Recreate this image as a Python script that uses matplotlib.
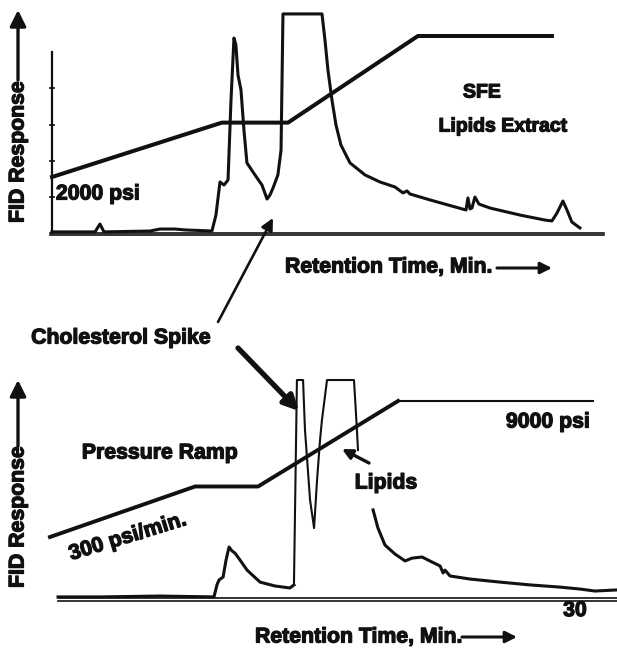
import numpy as np
import matplotlib
matplotlib.use("Agg")
import matplotlib.pyplot as plt
import matplotlib.patheffects as pe

# ---------------- data ----------------
# Top chromatogram: SFE lipids extract (time in min, response in % of full scale)
top_time = [0.0, 2.46, 2.74, 2.97, 5.6, 6.17, 7.03, 7.6, 9.14, 9.37, 9.6, 9.83, 10.06,
            10.23, 10.4, 10.51, 10.63, 10.8, 10.97, 11.14, 11.6, 12.0, 12.29, 12.46,
            12.63, 12.91, 13.09, 13.2, 15.43, 15.6, 15.77, 16.0, 16.23, 16.51, 17.03,
            17.89, 18.74, 19.6, 20.06, 20.29, 20.46, 21.6, 23.03, 23.66, 23.77, 23.89,
            24.0, 24.17, 24.4, 25.03, 26.74, 28.17, 28.57, 28.86, 29.2, 29.43, 29.71, 30.17]
top_resp = [0.5, 0.5, 4.1, 0.5, 0.9, 1.8, 1.8, 1.4, 0.9, 8.2, 23.3, 21.9, 24.2,
            60.7, 89.0, 85.8, 72.1, 65.3, 47.0, 32.0, 26.5, 21.9, 15.5, 17.4,
            20.5, 26.5, 37.9, 100, 100, 88.1, 74.4, 60.7, 49.3, 40.2, 32.0,
            26.5, 23.3, 21.0, 18.3, 19.2, 17.8, 15.1, 11.9, 10.5, 16.0, 11.0,
            11.4, 16.4, 13.2, 11.4, 8.2, 5.9, 5.5, 9.1, 14.6, 10.5, 5.0, 2.3]
# Top pressure program (psi)
top_p_time = [0.0, 9.71, 13.49, 20.91, 28.57]
top_p_psi = [2000, 4700, 4700, 9000, 9000]

# Bottom chromatogram: cholesterol spike + lipids
bot_time = [0.46, 2.86, 6.29, 9.37, 9.54, 9.66, 9.89, 10.06, 10.23, 10.4, 10.57, 10.86,
            11.26, 12.0, 12.86, 13.71, 13.94, 14.11, 14.46, 14.57, 14.86, 15.09, 15.26,
            15.43, 15.54, 15.83, 17.37, 17.49, 17.6, np.nan, 18.46, 18.74, 19.14, 19.71,
            20.29, 20.69, 21.26, 21.83, 22.29, 22.46, 22.57, 22.86, 24.0, 25.71, 27.43,
            29.14, 30.29, 31.14, 32.4]
bot_resp = [0.5, 0.5, 0.9, 0.5, 6.0, 8.3, 9.6, 17.4, 23.4, 21.6, 20.6, 17.4,
            12.8, 7.3, 5.5, 4.6, 6.0, 100, 100, 77.1, 45.0, 32.1, 54.1,
            72.5, 81.7, 100, 100, 83.9, 67.9, np.nan, 40.4, 32.1, 24.3, 20.2,
            17.0, 18.3, 18.8, 16.5, 14.7, 11.5, 12.8, 10.1, 8.7, 7.3, 6.0,
            5.0, 4.1, 3.2, 3.7]
bot_p_time = [0.0, 8.29, 11.89, 19.89, 31.03]
bot_p_psi = [2000, 4600, 4600, 9000, 9000]

x_tick_label = "30"
x_tick_value = 30

# ---------------- figure ----------------
W, H = 617, 649
fig = plt.figure(figsize=(W / 100, H / 100), dpi=100)
plt.rcParams['font.family'] = ['Liberation Sans', 'DejaVu Sans']
INK = '#111111'
FS = 15.3
BOLDER = [pe.withStroke(linewidth=0.9, foreground=INK)]


def box(x0, y0, x1, y1):
    """pixel box (top-left origin) -> figure fraction rect"""
    return [x0 / W, 1 - y1 / H, (x1 - x0) / W, (y1 - y0) / H]


def fp(x, y):
    return (x, H - y)


def ftext(x, y, s, **kw):
    kw.setdefault('fontsize', FS)
    kw.setdefault('fontweight', 'bold')
    kw.setdefault('color', INK)
    kw.setdefault('ha', 'center')
    kw.setdefault('va', 'center')
    kw.setdefault('path_effects', BOLDER)
    fig.text(x / W, 1 - y / H, s, **kw)


def farrow(tail, head, lw=2.0, ms=18):
    fig.add_artist(matplotlib.patches.FancyArrowPatch(
        fp(*tail), fp(*head), transform=None, arrowstyle='-|>',
        mutation_scale=ms, lw=lw, color=INK, shrinkA=0, shrinkB=0))


# ---- top panel ----
ax1 = fig.add_axes(box(45, 10, 617, 240))
ax1.set_xlim(-0.4, 32.29)
ax1.set_ylim(-3.2, 101.8)
for s in ['top', 'right', 'bottom']:
    ax1.spines[s].set_visible(False)
ax1.spines['left'].set_position(('data', 0))
ax1.spines['left'].set_bounds(0, 82.6)
ax1.spines['left'].set_linewidth(1.6)
ax1.spines['left'].set_color(INK)
ax1.set_yticks([16.5, 33, 49.5, 66])
ax1.set_yticklabels([])
ax1.tick_params(axis='y', direction='inout', length=4, width=1.2, color=INK)
ax1.set_xticks([])
ax1.patch.set_alpha(0)
ax1.plot([-0.11, 31.54], [0, 0], color=INK, lw=1.2)
ax1.plot([-0.11, 31.54], [-1.1, -1.1], color=INK, lw=1.2)
ax1.plot(top_time, top_resp, color=INK, lw=2.2, solid_joinstyle='round')
ax1b = ax1.twinx()
ax1b.set_ylim(-1128, 10291)
ax1b.axis('off')
ax1b.plot(top_p_time, top_p_psi, color=INK, lw=2.9)

# ---- bottom panel ----
ax2 = fig.add_axes(box(45, 375, 617, 605))
ax2.set_xlim(-0.286, 32.4)
ax2.set_ylim(-3.21, 102.3)
ax2.axis('off')
ax2.plot([0.46, 32.4], [0, 0], color=INK, lw=1.2)
ax2.plot([0.46, 32.4], [-1.3, -1.3], color=INK, lw=1.2)
ax2.plot(bot_time[:17], bot_resp[:17], color=INK, lw=2.2, solid_joinstyle='round')
ax2.plot(bot_time[16:29], bot_resp[16:29], color=INK, lw=1.5, solid_joinstyle='round')
ax2.plot(bot_time[30:], bot_resp[30:], color=INK, lw=2.2, solid_joinstyle='round')
ax2.text(x_tick_value, -5.8, x_tick_label, ha='center', va='center',
         fontsize=FS, fontweight='bold', color=INK, clip_on=False, path_effects=BOLDER)
ax2b = ax2.twinx()
ax2b.set_ylim(-1500, 10338)
ax2b.axis('off')
ax2b.plot(bot_p_time[:4], bot_p_psi[:4], color=INK, lw=2.8)
ax2b.plot(bot_p_time[3:], bot_p_psi[3:], color=INK, lw=1.5)

# ---- labels ----
ftext(18, 152, "FID Response", rotation=90)
farrow((18, 80), (18, 10), lw=2.4, ms=24)
ftext(18, 517, "FID Response", rotation=90)
farrow((18, 446), (18, 380), lw=2.4, ms=24)

ftext(285, 267, "Retention Time, Min.", ha='left')
farrow((497, 268), (552, 268), lw=2.2, ms=17)
ftext(255, 637, "Retention Time, Min.", ha='left')
farrow((462, 637), (517, 637), lw=2.2, ms=17)

ftext(98, 194, "2000 psi")
ftext(482, 93, "SFE", fontsize=14)
ftext(503, 127, "Lipids Extract", fontsize=14)
ftext(121, 338, "Cholesterol Spike")
ftext(160, 453, "Pressure Ramp")
ftext(128, 537, "300 psi/min.", rotation=17)
ftext(548, 422, "9000 psi")
ftext(386, 483, "Lipids")

farrow((218, 322), (273, 218), lw=1.9, ms=18)
farrow((238, 348), (299, 411), lw=3.8, ms=22)
farrow((369, 463), (342, 449), lw=2.4, ms=15)

fig.savefig("out.png", dpi=100)
